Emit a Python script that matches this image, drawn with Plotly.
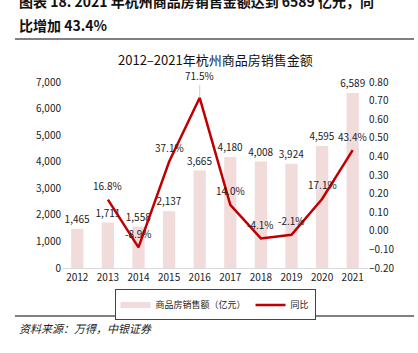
import plotly.graph_objects as go

years = ["2012", "2013", "2014", "2015", "2016", "2017", "2018", "2019", "2020", "2021"]
sales = [1465, 1711, 1558, 2137, 3665, 4180, 4008, 3924, 4595, 6589]
yoy_years = ["2013", "2014", "2015", "2016", "2017", "2018", "2019", "2020", "2021"]
yoy = [0.168, -0.089, 0.371, 0.715, 0.140, -0.041, -0.021, 0.171, 0.434]

FONT = "Noto Sans CJK SC"
PW, PH = 306, 186  # plot area size in px
BAR_COLOR = "#f2dbdb"

fig = go.Figure()
fig.add_trace(go.Bar(
    x=years, y=sales, name="商品房销售额（亿元）", showlegend=False,
    marker=dict(color=BAR_COLOR, line=dict(width=0)),
    width=0.4,
    text=[f"{v:,}" for v in sales], textposition="outside", constraintext="none",
    textfont=dict(size=10, color="#222", family=FONT),
    cliponaxis=False,
))
# legend proxy for the bar series (wide flat swatch, as in the reference)
fig.add_trace(go.Scatter(
    x=[None], y=[None], name="商品房销售额（亿元）", mode="lines",
    line=dict(color=BAR_COLOR, width=6),
))
fig.add_trace(go.Scatter(
    x=yoy_years, y=yoy, name="同比", yaxis="y2", mode="lines",
    line=dict(color="#c00000", width=2.5),
))
for x, v in zip(yoy_years, yoy):
    big = v > 0.7
    fig.add_annotation(
        x=years.index(x), y=v, xref="x", yref="y2", text=f"{v*100:.1f}%",
        showarrow=big, arrowhead=0, arrowwidth=0.7, arrowcolor="#bbbbbb",
        ax=0, ay=-22, yshift=0 if big else 14,
        font=dict(size=10, color="#222", family=FONT),
    )

fig.update_layout(
    width=418, height=353,
    margin=dict(l=62, r=50, t=82, b=85),
    paper_bgcolor="white", plot_bgcolor="white",
    font=dict(family=FONT, color="#222"),
    showlegend=True,
    legend=dict(orientation="h", x=0.5, xanchor="center", y=-0.115, yanchor="top",
                bordercolor="#444", borderwidth=1, font=dict(size=9, family=FONT),
                itemwidth=30),
    xaxis=dict(type="category", range=[-0.5, 9.5], showline=True, linecolor="#d9d9d9", linewidth=1,
               ticks="", tickfont=dict(size=10, family=FONT), showgrid=False),
    yaxis=dict(range=[0, 7000], dtick=1000, tickformat=",", showgrid=False,
               zeroline=False, tickfont=dict(size=10, family=FONT), ticks=""),
    yaxis2=dict(range=[-0.2, 0.8], dtick=0.1, tickformat=".2f", overlaying="y", side="right",
                showgrid=False, zeroline=False, tickfont=dict(size=10, family=FONT), ticks=""),
)

def py(pix):
    return (268 - pix) / PH

def px(pix):
    return (pix - 62) / PW

fig.add_annotation(xref="paper", yref="paper", x=0.5, y=py(59), xanchor="center", yanchor="middle",
                   text="2012–2021年杭州商品房销售金额", showarrow=False,
                   font=dict(size=13, family=FONT, color="#111"))
fig.add_annotation(xref="paper", yref="paper", x=px(17), y=py(1), xanchor="left",
                   yanchor="middle", text="<b>图表 18. 2021 年杭州商品房销售金额达到 6589 亿元，同</b>",
                   showarrow=False, font=dict(size=14, family=FONT, color="#111"))
fig.add_annotation(xref="paper", yref="paper", x=px(17), y=py(25), xanchor="left",
                   yanchor="middle", text="<b>比增加 43.4%</b>", showarrow=False,
                   font=dict(size=14, family=FONT, color="#111"))
fig.add_shape(type="line", xref="paper", yref="paper", x0=px(15), x1=px(414),
              y0=py(39), y1=py(39), line=dict(color="#808080", width=2))
fig.add_shape(type="line", xref="paper", yref="paper", x0=px(15), x1=px(414),
              y0=py(316), y1=py(316), line=dict(color="#808080", width=2))
fig.add_annotation(xref="paper", yref="paper", x=px(17), y=py(328), xanchor="left",
                   yanchor="middle", text="<i>资料来源：万得，中银证券</i>", showarrow=False,
                   font=dict(size=11, family=FONT, color="#222"))
fig.write_html("out.html")
